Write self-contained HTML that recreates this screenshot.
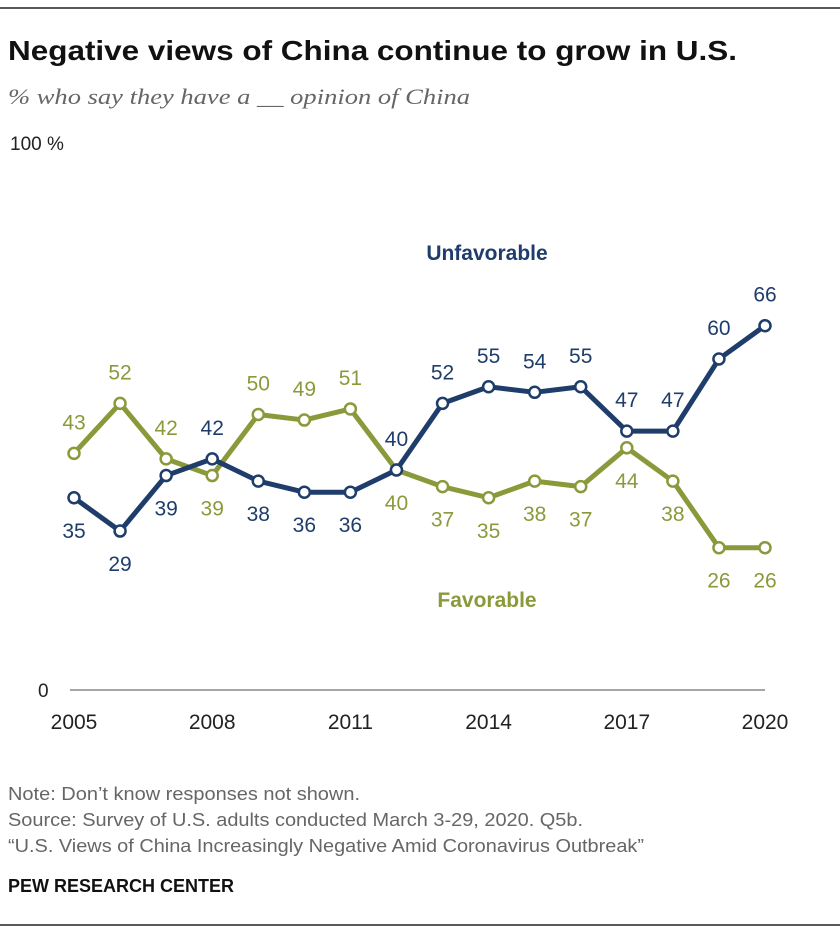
<!DOCTYPE html>
<html><head><meta charset="utf-8">
<style>
body{margin:0;background:#fff;width:840px;height:932px;overflow:hidden;font-family:"Liberation Sans",sans-serif;}
svg{display:block}
</style></head>
<body>
<svg id="chart" width="840" height="932">
<line x1="0" y1="8" x2="840" y2="8" stroke="#222" stroke-width="1.5"/>
<text x="8" y="60" font-size="28" font-weight="bold" fill="#111" textLength="729" lengthAdjust="spacingAndGlyphs">Negative views of China continue to grow in U.S.</text>
<text x="8" y="104" font-size="22" font-style="italic" fill="#666" font-family="Liberation Serif,serif" textLength="462" lengthAdjust="spacingAndGlyphs">% who say they have a __ opinion of China</text>
<text x="10" y="150" font-size="19" fill="#222">100 %</text>
<text x="38" y="697" font-size="19" fill="#222">0</text>
<line x1="70" y1="690" x2="765" y2="690" stroke="#888" stroke-width="1.5"/>
<g id="xt"></g>
<g id="series"></g>
<text x="487" y="260" font-size="21" font-weight="bold" fill="#1f3d6b" text-anchor="middle">Unfavorable</text>
<text x="487" y="607" font-size="21" font-weight="bold" fill="#8a9a3b" text-anchor="middle">Favorable</text>
<text x="8" y="800" font-size="18" fill="#666" textLength="352" lengthAdjust="spacingAndGlyphs">Note: Don’t know responses not shown.</text>
<text x="8" y="826" font-size="18" fill="#666" textLength="575" lengthAdjust="spacingAndGlyphs">Source: Survey of U.S. adults conducted March 3-29, 2020. Q5b.</text>
<text x="8" y="852" font-size="18" fill="#666" textLength="636" lengthAdjust="spacingAndGlyphs">“U.S. Views of China Increasingly Negative Amid Coronavirus Outbreak”</text>
<text x="8" y="892" font-size="18" font-weight="bold" fill="#111" textLength="226" lengthAdjust="spacingAndGlyphs">PEW RESEARCH CENTER</text>
<line x1="0" y1="925" x2="840" y2="925" stroke="#222" stroke-width="1.5"/>
</svg>
<script>
const years=[2005,2006,2007,2008,2009,2010,2011,2012,2013,2014,2015,2016,2017,2018,2019,2020];
const unfavorable=[35,29,39,42,38,36,36,40,52,55,54,55,47,47,60,66];
const favorable=[43,52,42,39,50,49,51,40,37,35,38,37,44,38,26,26];
const unfavPos=[1,1,1,-1,1,1,1,-1,-1,-1,-1,-1,-1,-1,-1,-1];
const favPos=[-1,-1,-1,1,-1,-1,-1,1,1,1,1,1,1,1,1,1];
const tickYears=[2005,2008,2011,2014,2017,2020];
const NS="http://www.w3.org/2000/svg";
const x=y=>74+(y-2005)*(765-74)/15;
const yv=v=>692-v*5.55;
function mk(t,a,p){const e=document.createElementNS(NS,t);for(const k in a)e.setAttribute(k,a[k]);p.appendChild(e);return e;}
const xt=document.getElementById('xt');
tickYears.forEach(t=>{const e=mk('text',{x:x(t),y:729,'font-size':21,fill:'#222','text-anchor':'middle'},xt);


e.textContent=t;});
const g=document.getElementById('series');
function draw(vals,pos,color,name){
 const pl=mk('polyline',{points:vals.map((v,i)=>x(years[i])+','+yv(v)).join(' '),fill:'none',stroke:color,'stroke-width':5,'stroke-linejoin':'round'},g);
 
 
 vals.forEach((v,i)=>{
  const c=mk('circle',{cx:x(years[i]),cy:yv(v),r:5.5,fill:'#fff',stroke:color,'stroke-width':2.5},g);
  
  
  const t=mk('text',{x:x(years[i]),y:yv(v)+(pos[i]>0?40:-24),'font-size':21,fill:color,'text-anchor':'middle'},g);
  
  
  t.textContent=v;
 });
}
draw(favorable,favPos,'#8a9a3b','favorable');
draw(unfavorable,unfavPos,'#1f3d6b','unfavorable');
</script>
</body></html>
